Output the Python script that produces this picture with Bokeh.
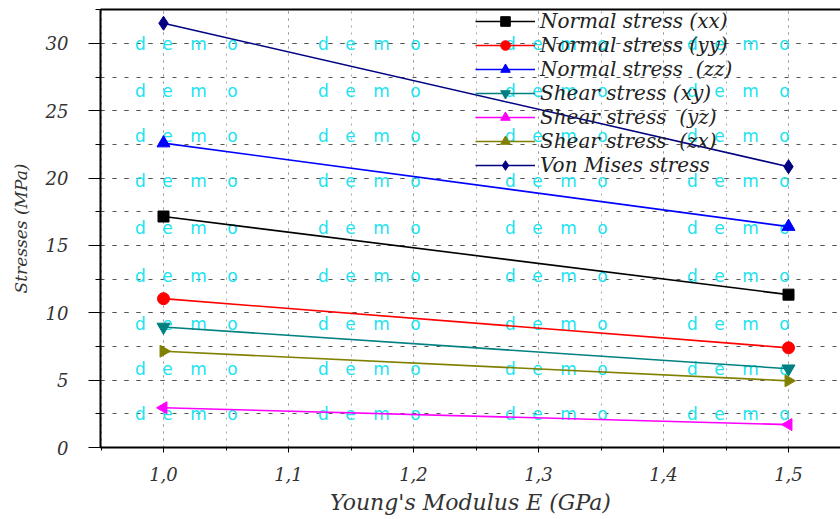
import math
from bokeh.plotting import figure
from bokeh.models import (Range1d, SingleIntervalTicker, LinearAxis, FixedTicker,
                          Label, CustomJSTickFormatter)
from bokeh.embed import file_html
from bokeh.resources import INLINE

# ---- data ----
modulus = [1.0, 1.5]
normal_xx = [17.15, 11.35]
normal_yy = [11.05, 7.40]
normal_zz = [22.60, 16.40]
shear_xy = [8.95, 5.85]
shear_yz = [2.95, 1.70]
shear_zx = [7.15, 4.95]
von_mises = [31.50, 20.85]

series_names = ["Normal stress (xx)", "Normal stress (yy)", "Normal stress  (zz)",
                "Shear stress (xy)", "Shear stress  (yz)", "Shear stress  (zx)",
                "Von Mises stress"]
series_values = [normal_xx, normal_yy, normal_zz, shear_xy, shear_yz, shear_zx, von_mises]
series_colors = ["#000000", "#ff0000", "#0000ff", "#008080", "#ff00ff", "#808000", "#000080"]
series_markers = ["square", "circle", "triangle", "inverted_triangle", "triangle", "triangle", "diamond"]
series_angles = [0, 0, 0, 0, math.pi / 2, -math.pi / 2, 0]
series_sizes = [11, 12, 13, 13, 12, 12, 14]

x_title = "Young's Modulus E (GPa)"
y_title = "Stresses (MPa)"
watermark = ["d", "e", "m", "o"]

FONT = "DejaVu Serif"

W, H = 840, 519
FL, FB = 100, 447  # frame left / bottom in page pixels

p = figure(width=W, height=H, output_backend="svg", toolbar_location=None,
           x_range=Range1d(0.9496, 1.5416), y_range=Range1d(0, 32.52),
           min_border_left=FL, min_border_right=0, min_border_top=9,
           min_border_bottom=H - FB, background_fill_color="white",
           border_fill_color="white")
p.outline_line_color = None

# axes
p.xaxis.ticker = SingleIntervalTicker(interval=0.1, num_minor_ticks=2)
p.yaxis.ticker = SingleIntervalTicker(interval=5, num_minor_ticks=2)
p.xaxis.formatter = CustomJSTickFormatter(code="return tick.toFixed(1).replace('.', ',');")
for ax in (p.xaxis[0], p.yaxis[0]):
    ax.axis_line_width = 2
    ax.axis_line_color = "black"
    ax.major_tick_line_color = "black"
    ax.minor_tick_line_color = "black"
    ax.major_tick_in = 0
    ax.minor_tick_in = 0
    ax.major_label_text_font = FONT
    ax.major_label_text_font_style = "italic"
    ax.major_label_text_font_size = "18px"
    ax.major_label_text_color = "#333333"
    ax.axis_label_text_font = FONT
    ax.axis_label_text_font_style = "italic"
    ax.axis_label_text_color = "#333333"
p.yaxis.major_tick_out = 12
p.yaxis.minor_tick_out = 5
p.yaxis.major_label_standoff = 20
p.yaxis.axis_label = y_title
p.yaxis.axis_label_standoff = 12
p.yaxis.axis_label_text_font_size = "17px"
p.xaxis.major_tick_out = 5
p.xaxis.minor_tick_out = 3
p.xaxis.major_label_standoff = 14
p.xaxis.axis_label = x_title
p.xaxis.axis_label_standoff = 6
p.xaxis.axis_label_text_font_size = "22px"

top_axis = LinearAxis(ticker=FixedTicker(ticks=[]), axis_line_width=2,
                      axis_line_color="black", major_tick_out=0, major_tick_in=0,
                      minor_tick_out=0, minor_tick_in=0,
                      major_label_text_font_size="0px", major_label_standoff=0)
p.add_layout(top_axis, "above")

# grid
p.ygrid.grid_line_color = "#555555"
p.ygrid.grid_line_dash = "4 8"
p.ygrid.minor_grid_line_color = "#555555"
p.ygrid.minor_grid_line_dash = "4 8"
p.xgrid.grid_line_color = "#999999"
p.xgrid.grid_line_dash = "2 5"
p.xgrid.minor_grid_line_color = "#aaaaaa"
p.xgrid.minor_grid_line_dash = "2 5"

# watermark (decorative text, screen units relative to the frame)
wm_rows = [43, 90, 135, 180, 227, 275, 323, 368, 413]
wm_cols = [140, 323, 510, 692]
wm_offsets = [0, 27, 58, 92]
for ry in wm_rows:
    for cx in wm_cols:
        for letter, off in zip(watermark, wm_offsets):
            p.add_layout(Label(x=cx + off - FL, y=FB - ry, x_units="screen", y_units="screen",
                               text=letter, text_align="center", text_baseline="middle",
                               text_font="DejaVu Sans", text_font_size="17px",
                               text_color="#20e3ef", level="underlay"))

# series
for name, vals, col, mk, ang, sz in zip(series_names, series_values, series_colors,
                                         series_markers, series_angles, series_sizes):
    p.line(modulus, vals, line_color=col, line_width=1.6, legend_label=name)
    p.scatter(modulus, vals, marker=mk, angle=ang, size=sz, fill_color=col,
              line_color=col, legend_label=name)

leg = p.legend[0]
leg.location = (375, 270)
leg.background_fill_alpha = 0
leg.border_line_color = None
leg.padding = 0
leg.margin = 0
leg.spacing = 0
leg.glyph_width = 60
leg.glyph_height = 24
leg.label_height = 24
leg.label_standoff = 5
leg.label_text_font = FONT
leg.label_text_font_style = "italic"
leg.label_text_font_size = "20px"
leg.label_text_color = "#222222"

open("out.html", "w").write(file_html(p, INLINE))
